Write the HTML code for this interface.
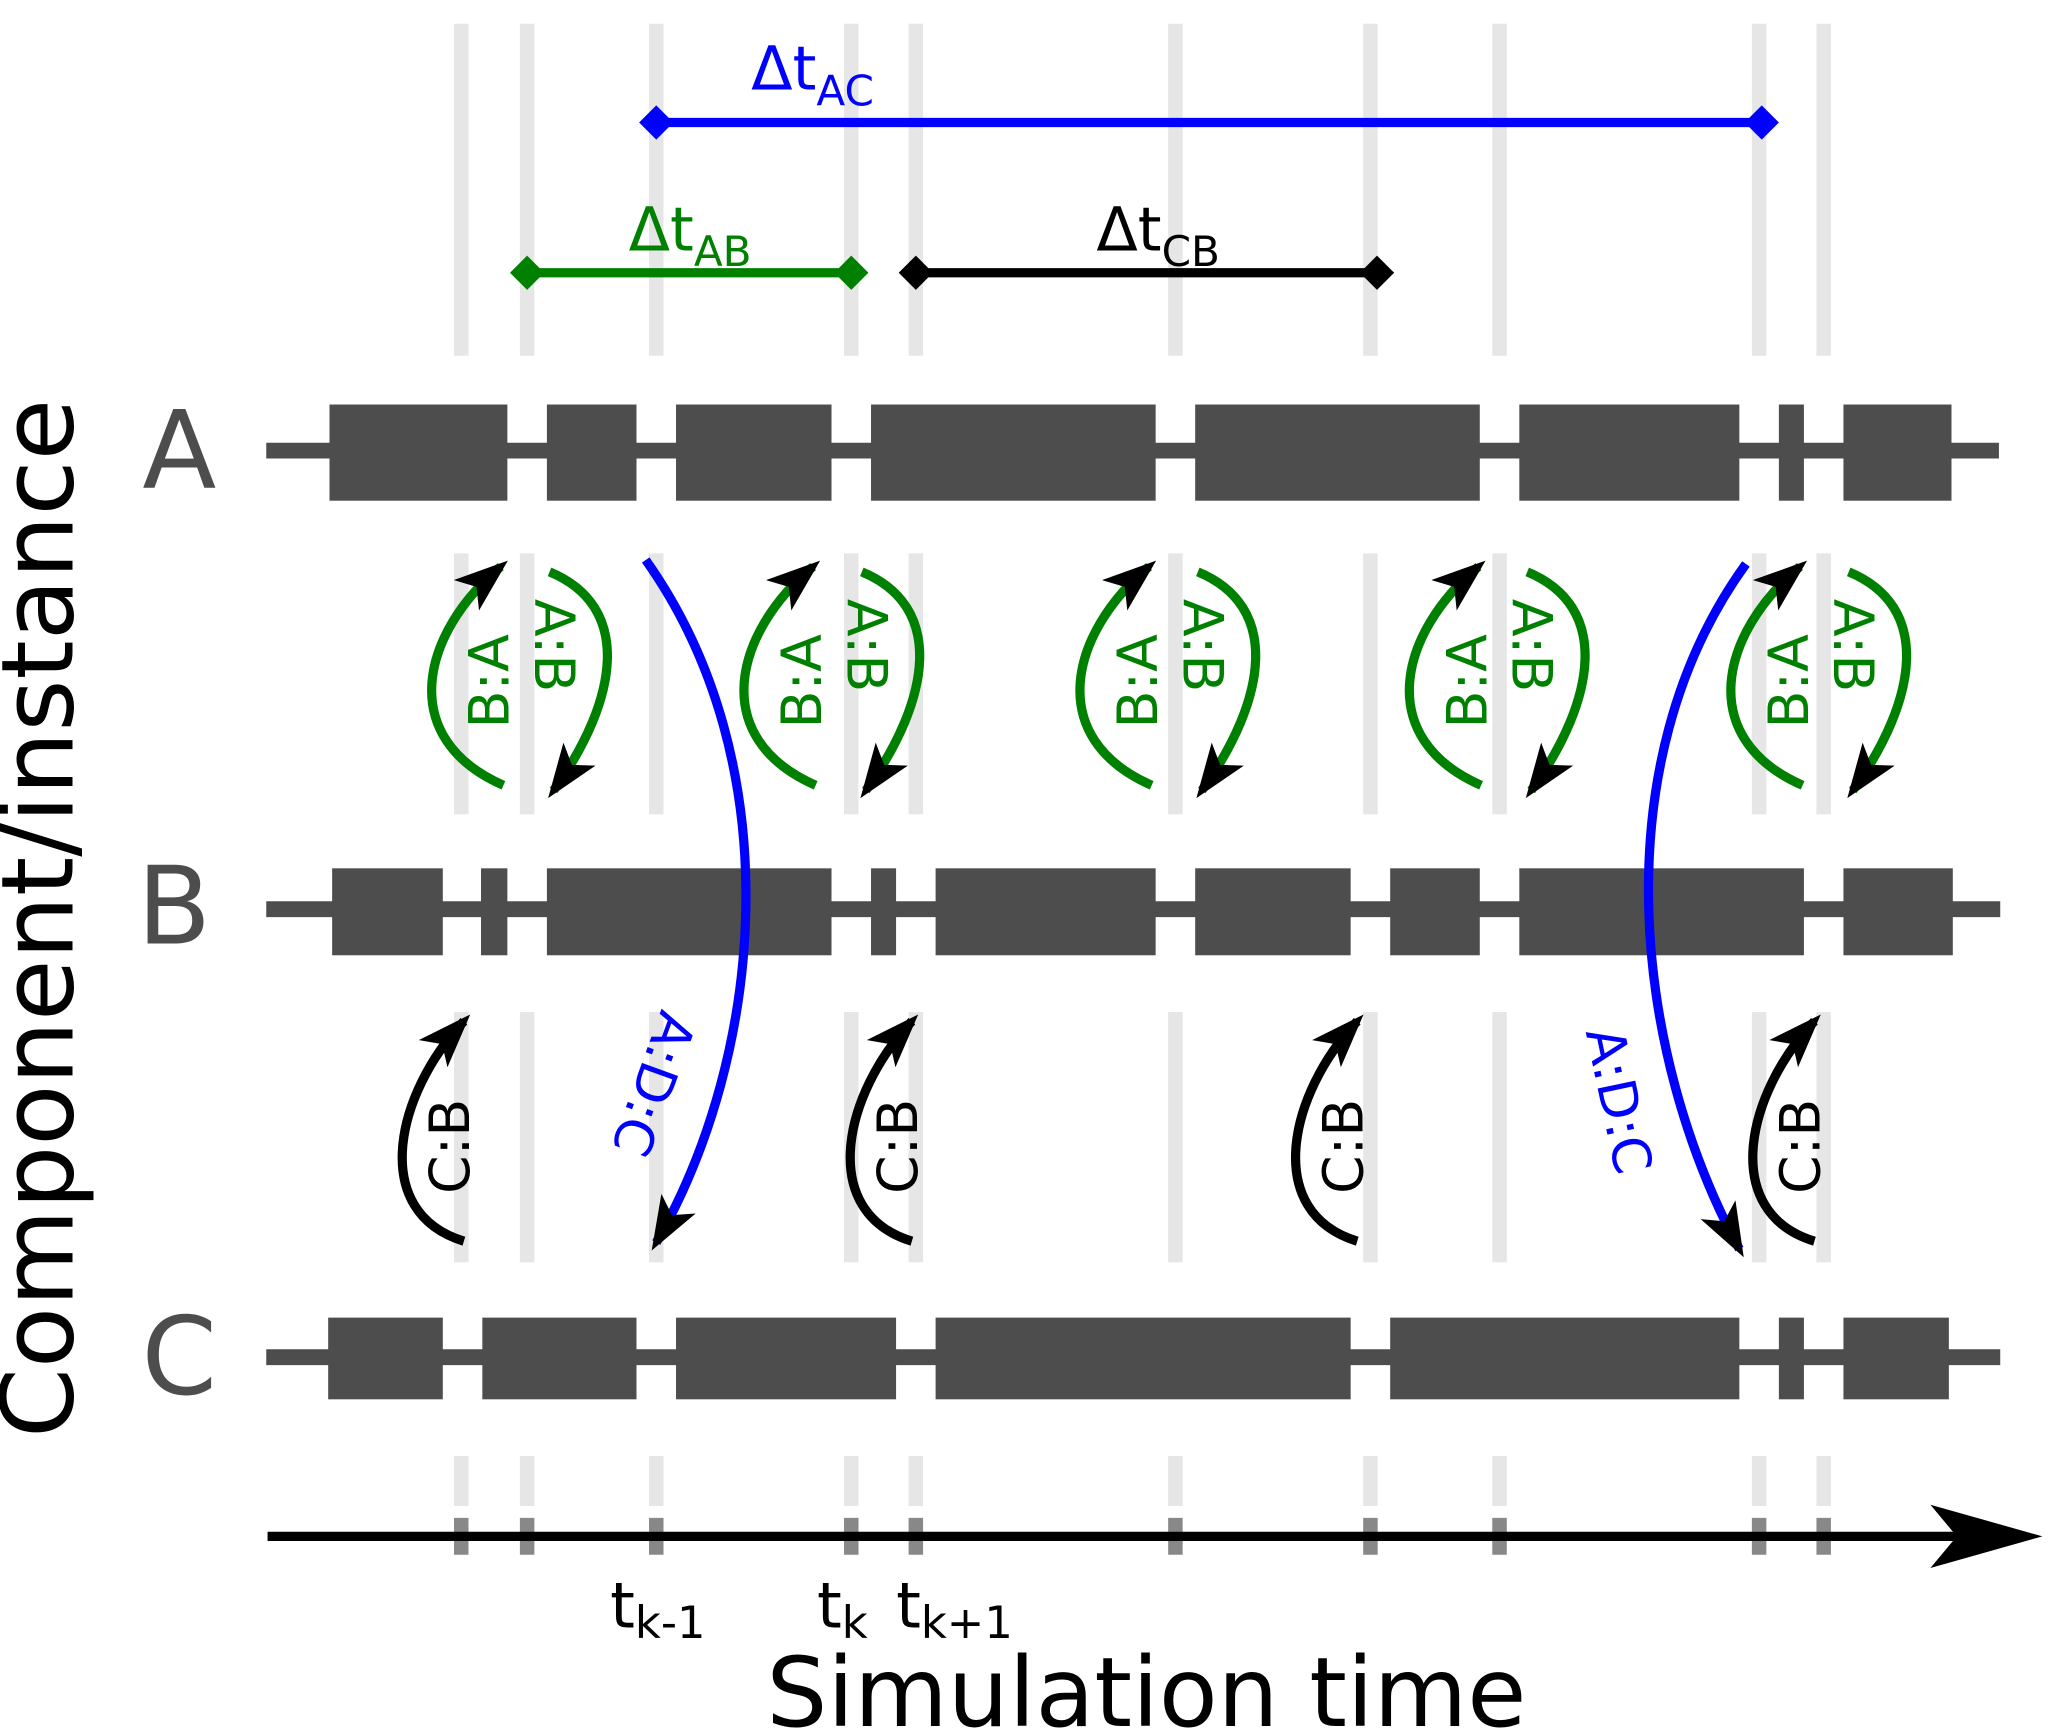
<!DOCTYPE html>
<html><head><meta charset="utf-8"><style>
html,body{margin:0;padding:0;background:#fff}
svg{display:block}
text{font-family:"DejaVu Sans","Liberation Sans",sans-serif}
</style></head><body>
<svg width="2067" height="1734" viewBox="0 0 1568.6 1316" xmlns="http://www.w3.org/2000/svg">
<defs>
<marker id="ah" markerUnits="userSpaceOnUse" markerWidth="46" markerHeight="34" refX="34" refY="15" orient="auto">
<path d="M0,0 L41,15 L0,30 L10,15 z" fill="#000"/>
</marker>
<path id="gl" d="M0,18V270M0,420V618M0,768V958M0,1105V1143" stroke="#e6e6e6" stroke-width="11"/>
</defs>
<g>
<use href="#gl" x="350"/><use href="#gl" x="400"/><use href="#gl" x="498"/><use href="#gl" x="646"/><use href="#gl" x="695"/><use href="#gl" x="892"/><use href="#gl" x="1040"/><use href="#gl" x="1138"/><use href="#gl" x="1335"/><use href="#gl" x="1384"/>
</g>
<g stroke="#888" stroke-width="11">
<path d="M350,1152V1180M400,1152V1180M498,1152V1180M646,1152V1180M695,1152V1180M892,1152V1180M1040,1152V1180M1138,1152V1180M1335,1152V1180M1384,1152V1180"/>
</g>
<g fill="#4d4d4d" stroke="#4d4d4d">
<line x1="202" y1="342" x2="1517" y2="342" stroke-width="12"/>
<line x1="202" y1="690" x2="1518" y2="690" stroke-width="12"/>
<line x1="202" y1="1030" x2="1518" y2="1030" stroke-width="12"/>
<g stroke="none">
<rect x="250" y="307" width="135" height="73"/><rect x="415" y="307" width="68" height="73"/><rect x="513" y="307" width="118" height="73"/><rect x="661" y="307" width="216" height="73"/><rect x="907" y="307" width="216" height="73"/><rect x="1153" y="307" width="167" height="73"/><rect x="1350" y="307" width="19" height="73"/><rect x="1399" y="307" width="82" height="73"/>
<rect x="252" y="659" width="84" height="66"/><rect x="365" y="659" width="20" height="66"/><rect x="415" y="659" width="216" height="66"/><rect x="661" y="659" width="19" height="66"/><rect x="710" y="659" width="167" height="66"/><rect x="907" y="659" width="118" height="66"/><rect x="1055" y="659" width="68" height="66"/><rect x="1153" y="659" width="216" height="66"/><rect x="1399" y="659" width="83" height="66"/>
<rect x="249" y="1000" width="87" height="62"/><rect x="366" y="1000" width="117" height="62"/><rect x="513" y="1000" width="167" height="62"/><rect x="710" y="1000" width="315" height="62"/><rect x="1055" y="1000" width="265" height="62"/><rect x="1350" y="1000" width="19" height="62"/><rect x="1399" y="1000" width="80" height="62"/>
</g></g>
<g fill="#4d4d4d" font-size="82" text-anchor="middle">
<text x="136" y="370">A</text><text x="132" y="716">B</text><text x="136" y="1058">C</text>
</g>
<text transform="translate(55,697) rotate(-90)" font-size="76" text-anchor="middle">Component/instance</text>
<line x1="203" y1="1166" x2="1490" y2="1166" stroke="#000" stroke-width="7"/>
<polygon points="1465,1142 1550,1166 1465,1190 1485,1166" fill="#000"/>
<g font-size="48">
<text x="463" y="1235">t<tspan font-size="34" dy="8">k-1</tspan></text>
<text x="620" y="1235">t<tspan font-size="34" dy="8">k</tspan></text>
<text x="680" y="1235">t<tspan font-size="34" dy="8">k+1</tspan></text>
</g>
<text x="870" y="1310" font-size="73" text-anchor="middle">Simulation time</text>
<line x1="498" y1="93" x2="1337" y2="93" stroke="#00f" stroke-width="7"/>
<polygon points="498,80 511,93 498,106 485,93" fill="#00f"/><polygon points="1337,80 1350,93 1337,106 1324,93" fill="#00f"/>
<text x="570" y="68" font-size="46" fill="#00f">Δt<tspan font-size="32" dy="12">AC</tspan></text>
<line x1="400" y1="207" x2="646" y2="207" stroke="#008000" stroke-width="7"/>
<polygon points="400,194 413,207 400,220 387,207" fill="#008000"/><polygon points="646,194 659,207 646,220 633,207" fill="#008000"/>
<text x="477" y="190" font-size="46" fill="#008000">Δt<tspan font-size="32" dy="12">AB</tspan></text>
<line x1="695" y1="207" x2="1045" y2="207" stroke="#000" stroke-width="7"/>
<polygon points="695,194 708,207 695,220 682,207"/><polygon points="1045,194 1058,207 1045,220 1032,207"/>
<text x="832" y="190" font-size="46">Δt<tspan font-size="32" dy="12">CB</tspan></text>
<g id="gp">
<path d="M382,596 C300,560 320,480 380,430" fill="none" stroke="#008000" stroke-width="7" marker-end="url(#ah)"/>
<path d="M417,434 C480,460 470,530 420,600" fill="none" stroke="#008000" stroke-width="7" marker-end="url(#ah)"/>
<text transform="translate(386,517) rotate(-90)" font-size="42" fill="#008000" text-anchor="middle">B:A</text>
<text transform="translate(406,490) rotate(90)" font-size="42" fill="#008000" text-anchor="middle">A:B</text>
</g>
<use href="#gp" x="237"/><use href="#gp" x="492"/><use href="#gp" x="742"/><use href="#gp" x="986"/>
<g id="cb">
<path d="M352,942 C280,920 300,830 352,775" fill="none" stroke="#000" stroke-width="7" marker-end="url(#ah)"/>
<text transform="translate(356,870) rotate(-90)" font-size="42" text-anchor="middle">C:B</text>
</g>
<use href="#cb" x="340"/><use href="#cb" x="678"/><use href="#cb" x="1025"/>
<path d="M490,425 C600,580 580,800 498,943" fill="none" stroke="#00f" stroke-width="7" marker-end="url(#ah)"/>
<path d="M1325,428 C1215,580 1240,800 1320,948" fill="none" stroke="#00f" stroke-width="7" marker-end="url(#ah)"/>
<text transform="translate(483,818) rotate(110)" font-size="40" fill="#00f" text-anchor="middle">A:D:C</text>
<text transform="translate(1215,838) rotate(78)" font-size="40" fill="#00f" text-anchor="middle">A:D:C</text>
</svg>
</body></html>
